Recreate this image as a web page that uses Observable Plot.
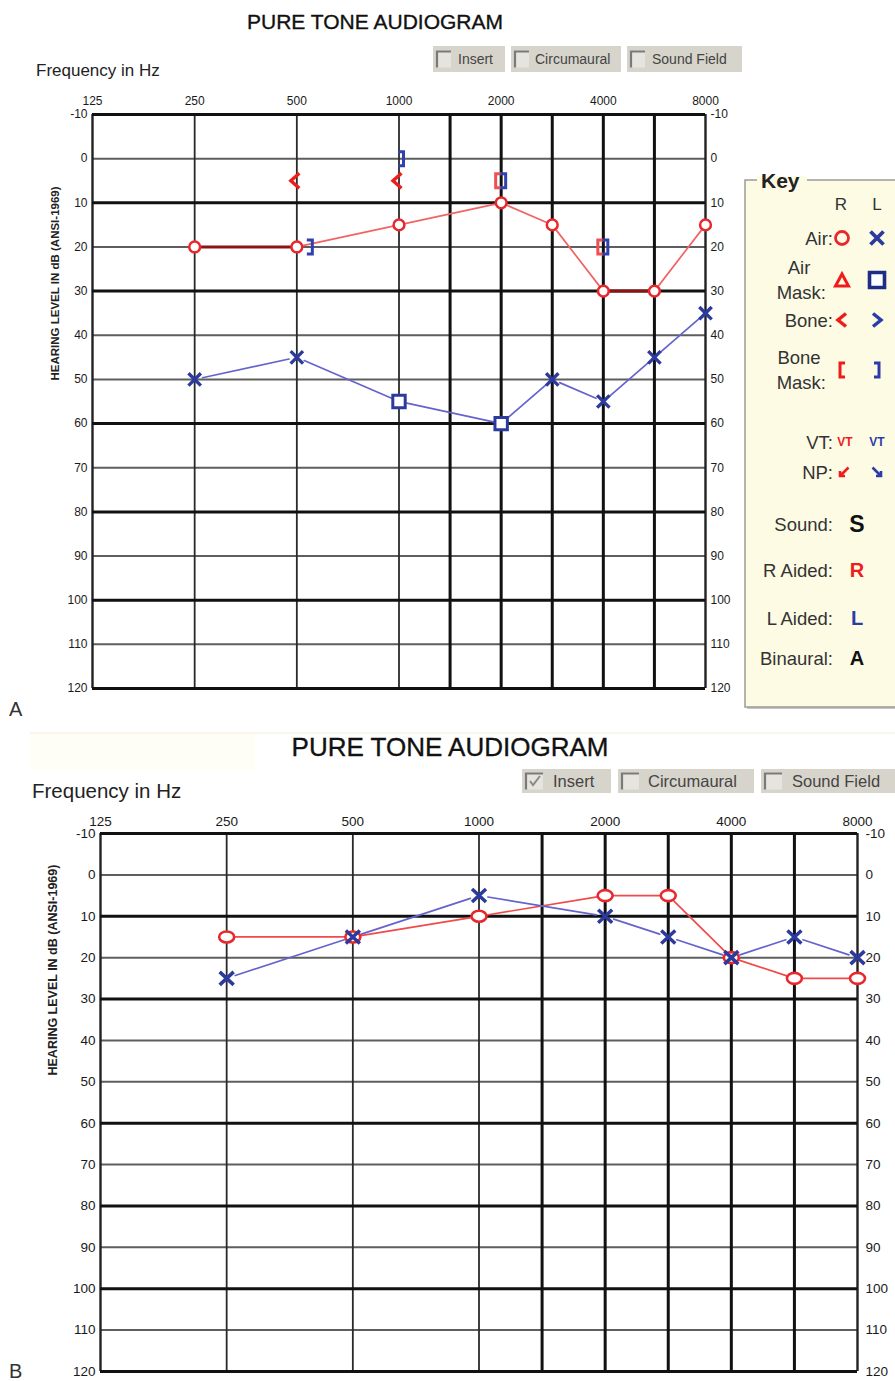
<!DOCTYPE html>
<html>
<head>
<meta charset="utf-8">
<script src="https://cdn.jsdelivr.net/npm/d3@7"></script>
<script src="https://cdn.jsdelivr.net/npm/@observablehq/plot@0.6"></script>
<style>
  body { margin: 0; background: #ffffff; }
  #wrap { position: relative; width: 895px; height: 1381px; overflow: hidden; background: #fff;
          font-family: "Liberation Sans", Arial, Helvetica, sans-serif; }
  #wrap > svg { position: absolute; left: 0; }
</style>
</head>
<body>
<div id="wrap"></div>
<script>
// ---------------- data ----------------
const FREQ_TICKS = [125, 250, 500, 1000, 2000, 4000, 8000];
const FREQ_TICK_LABELS = ["125", "250", "500", "1000", "2000", "4000", "8000"];
const FREQ_GRID = [125, 250, 500, 1000, 1500, 2000, 3000, 4000, 6000, 8000];
const FREQ_THICK = [1500, 2000, 3000, 4000, 6000];
const FREQ_BORDER = [125, 8000];
const DB_TICKS = [-10, 0, 10, 20, 30, 40, 50, 60, 70, 80, 90, 100, 110, 120];
const DB_THICK = [-10, 10, 30, 60, 80, 100, 120];
const Y_TITLE = "HEARING LEVEL IN dB (ANSI-1969)";
const TITLE = "PURE TONE AUDIOGRAM";
const TRANSDUCERS = ["Insert", "Circumaural", "Sound Field"];

// Panel A
const aRightAirFreq = [250, 500, 1000, 2000, 3000, 4000, 6000, 8000];
const aRightAirDb   = [20, 20, 15, 10, 15, 30, 30, 15];
const aLeftAirFreq  = [250, 500, 3000, 4000, 6000, 8000];
const aLeftAirDb    = [50, 45, 50, 55, 45, 35];
const aLeftAirMaskFreq = [1000, 2000];
const aLeftAirMaskDb   = [55, 60];
const aRightBoneFreq = [500, 1000];
const aRightBoneDb   = [5, 5];
const aRightBoneMaskFreq = [2000, 4000];
const aRightBoneMaskDb   = [5, 20];
const aLeftBoneMaskFreq  = [500, 1000, 2000, 4000];
const aLeftBoneMaskDb    = [20, 0, 5, 20];

// Panel B
const bRightAirFreq = [250, 500, 1000, 2000, 3000, 4000, 6000, 8000];
const bRightAirDb   = [15, 15, 10, 5, 5, 20, 25, 25];
const bLeftAirFreq  = [250, 500, 1000, 2000, 3000, 4000, 6000, 8000];
const bLeftAirDb    = [25, 15, 5, 10, 15, 20, 15, 20];

// ---------------- helpers ----------------
const FONT = '"Liberation Sans", Arial, Helvetica, sans-serif';
const RED = "#e8282c", RED_LINE = "#f26464", DARK_RED = "#8a1414";
const BLUE = "#2b3a9c", BLUE_LINE = "#6464cc";
// audiometric half-octave slot (125 Hz = 0)
const oct = f => Math.round(2 * Math.log2(f / 125)) / 2;
const pts = (fs, ds) => fs.map((f, i) => ({f, db: ds[i]}));
function segs(points) {
  const s = points.slice().sort((a, b) => a.f - b.f);
  return d3.pairs(s).map(([a, b]) => ({f1: a.f, d1: a.db, f2: b.f, d2: b.db}));
}
const sym = fn => ({draw: fn});
const symX = (w, h) => sym(c => { c.moveTo(-w, -h); c.lineTo(w, h); c.moveTo(w, -h); c.lineTo(-w, h); });
const symSquare = s => sym(c => { c.moveTo(-s, -s); c.lineTo(s, -s); c.lineTo(s, s); c.lineTo(-s, s); c.closePath(); });
const symLess = sym(c => { c.moveTo(4.5, -7.5); c.lineTo(-4, 0); c.lineTo(4.5, 7.5); });
const symRBr = sym(c => { c.moveTo(-3, -7); c.lineTo(2.5, -7); c.lineTo(2.5, 7); c.lineTo(-3, 7); });
const symLBr = sym(c => { c.moveTo(3, -7); c.lineTo(-2.5, -7); c.lineTo(-2.5, 7); c.lineTo(3, 7); });
const symEllipse = (rx, ry) => sym(c => {
  const k = 0.5523, ox = rx * k, oy = ry * k;
  c.moveTo(-rx, 0);
  c.bezierCurveTo(-rx, -oy, -ox, -ry, 0, -ry);
  c.bezierCurveTo(ox, -ry, rx, -oy, rx, 0);
  c.bezierCurveTo(rx, oy, ox, ry, 0, ry);
  c.bezierCurveTo(-ox, ry, -rx, oy, -rx, 0);
  c.closePath();
});

function gridMarks() {
  return [
    Plot.ruleY(DB_TICKS.filter(d => !DB_THICK.includes(d)), {y: d => d, stroke: "#5e5e5e", strokeWidth: 2}),
    Plot.ruleX(FREQ_GRID.filter(f => !FREQ_THICK.includes(f) && !FREQ_BORDER.includes(f)), {x: oct, stroke: "#2a2a2a", strokeWidth: 1.8}),
    Plot.ruleX(FREQ_BORDER, {x: oct, stroke: "#222", strokeWidth: 2.4}),
    Plot.ruleY(DB_THICK, {y: d => d, stroke: "#111", strokeWidth: 3}),
    Plot.ruleX(FREQ_THICK, {x: oct, stroke: "#111", strokeWidth: 3})
  ];
}
function axisTextMarks(fs, xdy, ydxL, ydxR, titleDx, titleDy, titleFs) {
  return [
    Plot.text(FREQ_TICKS, {x: oct, text: (d, i) => FREQ_TICK_LABELS[i], frameAnchor: "top", dy: xdy,
      lineAnchor: "bottom", fontSize: fs, fill: "#1a1a1a"}),
    Plot.text(DB_TICKS, {y: d => d, text: d => String(d), frameAnchor: "left", dx: ydxL, textAnchor: "end",
      lineAnchor: "middle", fontSize: fs, fill: "#1a1a1a"}),
    Plot.text(DB_TICKS, {y: d => d, text: d => String(d), frameAnchor: "right", dx: ydxR, textAnchor: "start",
      lineAnchor: "middle", fontSize: fs, fill: "#1a1a1a"}),
    Plot.text([Y_TITLE], {text: d => d, frameAnchor: "left", dx: titleDx, dy: titleDy, rotate: -90,
      fontSize: titleFs, fontWeight: "bold", fill: "#222"})
  ];
}
function lineMarks(points, stroke, inset, darkOnGrid) {
  return Plot.arrow(segs(points), {
    x1: d => oct(d.f1), y1: "d1", x2: d => oct(d.f2), y2: "d2",
    headLength: 0, insetStart: inset, insetEnd: inset,
    stroke: d => (darkOnGrid && d.d1 === d.d2 && d.d1 % 10 === 0) ? DARK_RED : stroke,
    strokeWidth: d => (darkOnGrid && d.d1 === d.d2 && d.d1 % 10 === 0) ? 3 : 1.7
  });
}
const baseOpts = {
  x: {type: "linear", domain: [0, 6], axis: null},
  y: {type: "linear", domain: [-10, 120], reverse: true, axis: null},
  style: {background: "transparent", fontFamily: FONT, overflow: "visible"}
};

const wrap = document.getElementById("wrap");

// ---------------- Panel A ----------------
const aRightAir = pts(aRightAirFreq, aRightAirDb);
const aLeftAir = pts(aLeftAirFreq, aLeftAirDb);
const aLeftMask = pts(aLeftAirMaskFreq, aLeftAirMaskDb);
const aLBM = pts(aLeftBoneMaskFreq, aLeftBoneMaskDb);
const collides = p => aRightAir.some(q => q.f === p.f && q.db === p.db);

const chartA = Plot.plot({
  ...baseOpts,
  width: 895, height: 720,
  marginLeft: 92, marginRight: 190, marginTop: 114, marginBottom: 32,
  marks: [
    ...gridMarks(),
    ...axisTextMarks(12, -10, -5, 5, -37, -21, 11.5),
    lineMarks(aRightAir, RED_LINE, 6, true),
    lineMarks(aLeftAir.concat(aLeftMask), BLUE_LINE, 8, false),
    Plot.dot(aRightAir, {x: d => oct(d.f), y: "db", r: 5.4, fill: "white", stroke: RED, strokeWidth: 2.5}),
    Plot.dot(aLeftMask, {x: d => oct(d.f), y: "db", symbol: symSquare(6.2), fill: "white", stroke: BLUE, strokeWidth: 3}),
    Plot.dot(aLeftAir, {x: d => oct(d.f), y: "db", symbol: symX(6.2, 6.2), fill: "none", stroke: BLUE, strokeWidth: 3.3}),
    Plot.dot(pts(aRightBoneFreq, aRightBoneDb), {x: d => oct(d.f), y: "db", symbol: symLess, dx: -2,
      fill: "none", stroke: "#ee1c1c", strokeWidth: 3.4}),
    Plot.dot(pts(aRightBoneMaskFreq, aRightBoneMaskDb), {x: d => oct(d.f), y: "db", symbol: symLBr, dx: -3,
      fill: "none", stroke: "#f05050", strokeWidth: 3}),
    Plot.dot(aLBM.filter(p => !collides(p)), {x: d => oct(d.f), y: "db", symbol: symRBr, dx: 2,
      fill: "none", stroke: "#3040b0", strokeWidth: 3}),
    Plot.dot(aLBM.filter(collides), {x: d => oct(d.f), y: "db", symbol: symRBr, dx: 13,
      fill: "none", stroke: "#3040b0", strokeWidth: 3})
  ]
});
chartA.style.top = "0px";
wrap.appendChild(chartA);

// ---------------- Panel B ----------------
const bRightAir = pts(bRightAirFreq, bRightAirDb);
const bLeftAir = pts(bLeftAirFreq, bLeftAirDb);
const chartB = Plot.plot({
  ...baseOpts,
  width: 895, height: 661,
  marginLeft: 100, marginRight: 38, marginTop: 113, marginBottom: 10,
  marks: [
    ...gridMarks(),
    ...axisTextMarks(13.5, -8, -5, 8, -48, -27, 12.5),
    lineMarks(bRightAir, "#f04a4a", 8, true),
    lineMarks(bLeftAir, BLUE_LINE, 9, false),
    Plot.dot(bRightAir, {x: d => oct(d.f), y: "db", symbol: symEllipse(7.5, 5.5), fill: "white", stroke: RED, strokeWidth: 2.6}),
    Plot.dot(bLeftAir, {x: d => oct(d.f), y: "db", symbol: symX(7, 6.5), fill: "none", stroke: BLUE, strokeWidth: 3.5})
  ]
});
chartB.style.top = "720px";
wrap.appendChild(chartB);

// ---------------- overlay: titles, transducer boxes, key ----------------
const ov = d3.select(wrap).append("svg").attr("width", 895).attr("height", 1381)
  .style("top", "0px").style("font-family", FONT);

// faint frame of panel B
ov.append("rect").attr("x", 30).attr("y", 733).attr("width", 225).attr("height", 37).attr("fill", "#fefef7");
ov.append("line").attr("x1", 30).attr("x2", 895).attr("y1", 733).attr("y2", 733).attr("stroke", "#f6f4e2").attr("stroke-width", 1.5);

function title(x, y, fs) {
  ov.append("text").attr("x", x).attr("y", y).attr("text-anchor", "middle").attr("font-size", fs)
    .attr("fill", "#111").attr("stroke", "#111").attr("stroke-width", 0.35).text(TITLE);
}
title(375, 29, 21);
title(450, 756, 26);
ov.append("text").attr("x", 36).attr("y", 76).attr("font-size", 17).attr("fill", "#222").text("Frequency in Hz");
ov.append("text").attr("x", 32).attr("y", 798).attr("font-size", 20.5).attr("fill", "#222").text("Frequency in Hz");
ov.append("text").attr("x", 9).attr("y", 716).attr("font-size", 20).attr("fill", "#333").text("A");
ov.append("text").attr("x", 9).attr("y", 1378).attr("font-size", 20).attr("fill", "#333").text("B");

function checkBox(x, y, w, h, label, checked, fs, sq, labelX) {
  const g = ov.append("g");
  g.append("rect").attr("x", x).attr("y", y).attr("width", w).attr("height", h).attr("fill", "#d7d4cc");
  const sx = x + 3, sy = y + (h - sq[1]) / 2;
  g.append("rect").attr("x", sx).attr("y", sy).attr("width", sq[0]).attr("height", sq[1]).attr("fill", "#e6e4de");
  g.append("path").attr("d", `M${sx + sq[0]},${sy + 1} H${sx + 1} V${sy + sq[1]}`).attr("fill", "none")
    .attr("stroke", "#7a7a7a").attr("stroke-width", 2.2);
  if (checked) {
    const cx = sx + sq[0] / 2 + 1, cy = sy + sq[1] / 2;
    g.append("path").attr("d", `M${cx - 5},${cy} L${cx - 2},${cy + 4} L${cx + 5},${cy - 5}`).attr("fill", "none")
      .attr("stroke", "#8a8a8a").attr("stroke-width", 2);
  }
  g.append("text").attr("x", labelX).attr("y", y + h / 2 + fs * 0.36).attr("font-size", fs).attr("fill", "#444").text(label);
}
checkBox(433, 46, 72, 26, TRANSDUCERS[0], false, 14, [15, 17], 458);
checkBox(511, 46, 110, 26, TRANSDUCERS[1], false, 14, [15, 17], 535);
checkBox(627, 46, 115, 26, TRANSDUCERS[2], false, 14, [15, 17], 652);
checkBox(522, 769, 89, 24, TRANSDUCERS[0], true, 16.5, [18, 17], 553);
checkBox(618, 769, 136, 24, TRANSDUCERS[1], false, 16.5, [18, 17], 648);
checkBox(761, 769, 140, 24, TRANSDUCERS[2], false, 16.5, [18, 17], 792);

// Key (legend)
const K = ov.append("g");
K.append("rect").attr("x", 747).attr("y", 182).attr("width", 160).attr("height", 527).attr("fill", "#c9c7bd");
K.append("rect").attr("x", 745).attr("y", 180).attr("width", 160).attr("height", 527)
  .attr("fill", "#fdfbe4").attr("stroke", "#9c9c96").attr("stroke-width", 1.5);
K.append("rect").attr("x", 757).attr("y", 176).attr("width", 50).attr("height", 10).attr("fill", "#fdfbe4");
K.append("text").attr("x", 761).attr("y", 188).attr("font-size", 21).attr("font-weight", "bold").attr("fill", "#222").text("Key");
const RX = 842, LX = 877, SX = 857, LABEL_R = 833;
const KFS = 18.5;
K.append("text").attr("x", 841).attr("y", 210).attr("text-anchor", "middle").attr("font-size", 17).attr("fill", "#333").text("R");
K.append("text").attr("x", 877).attr("y", 210).attr("text-anchor", "middle").attr("font-size", 17).attr("fill", "#333").text("L");

function label1(y, t) {
  K.append("text").attr("x", LABEL_R).attr("y", y + 6.5).attr("text-anchor", "end").attr("font-size", KFS).attr("fill", "#333").text(t);
}
function label2(y, t1, t2) {
  K.append("text").attr("x", 799).attr("y", y - 6).attr("text-anchor", "middle").attr("font-size", KFS).attr("fill", "#333").text(t1);
  K.append("text").attr("x", 826).attr("y", y + 19).attr("text-anchor", "end").attr("font-size", KFS).attr("fill", "#333").text(t2);
}
function kpath(x, y, d, stroke, sw, fill) {
  K.append("path").attr("transform", `translate(${x},${y})`).attr("d", d).attr("fill", fill || "none")
    .attr("stroke", stroke).attr("stroke-width", sw).attr("stroke-linejoin", "miter");
}
function ktext(x, y, t, fill, fs) {
  K.append("text").attr("x", x).attr("y", y + fs * 0.36).attr("text-anchor", "middle").attr("font-size", fs)
    .attr("font-weight", "bold").attr("fill", fill).text(t);
}
// Air
let y = 238;
label1(y, "Air:");
K.append("circle").attr("cx", RX).attr("cy", y).attr("r", 6.5).attr("fill", "none").attr("stroke", RED).attr("stroke-width", 2.8);
kpath(LX, y, "M-6.5,-6.5L6.5,6.5M6.5,-6.5L-6.5,6.5", BLUE, 3.8);
// Air Mask
y = 280;
label2(y, "Air", "Mask:");
kpath(RX, y, "M0,-6L6.5,6H-6.5Z", "#ee1c1c", 3);
kpath(LX, y, "M-7.5,-7.5H7.5V7.5H-7.5Z", "#1f2d85", 3.6, "white");
// Bone
y = 320;
label1(y, "Bone:");
kpath(RX, y, "M4,-6.5L-4,0L4,6.5", "#ee1c1c", 3.5);
kpath(LX, y, "M-4,-6.5L4,0L-4,6.5", "#2b3ca8", 3.5);
// Bone Mask
y = 370;
label2(y, "Bone", "Mask:");
kpath(RX, y, "M3,-7H-2V7H3", "#ee1c1c", 3);
kpath(LX, y, "M-3,-7H2V7H-3", "#2b3ca8", 3);
// VT
y = 442;
label1(y, "VT:");
ktext(RX + 3, y, "VT", "#ee1c1c", 12);
ktext(LX, y, "VT", "#2b3ca8", 12);
// NP
y = 472;
label1(y, "NP:");
kpath(RX + 2, y, "M4.5,-4.5L-4,4M-4,-1V4H1", "#ee1c1c", 2.6);
kpath(LX, y, "M-4.5,-4.5L4,4M4,-1V4H-1", "#2b3ca8", 2.6);
// Sound
y = 524;
label1(y, "Sound:");
ktext(SX, y, "S", "#111", 23);
// R Aided
y = 570;
label1(y, "R Aided:");
ktext(SX, y, "R", "#ee1c1c", 20);
// L Aided
y = 618;
label1(y, "L Aided:");
ktext(SX, y, "L", "#2b3ca8", 20);
// Binaural
y = 658;
label1(y, "Binaural:");
ktext(SX, y, "A", "#111", 20);
</script>
</body>
</html>
